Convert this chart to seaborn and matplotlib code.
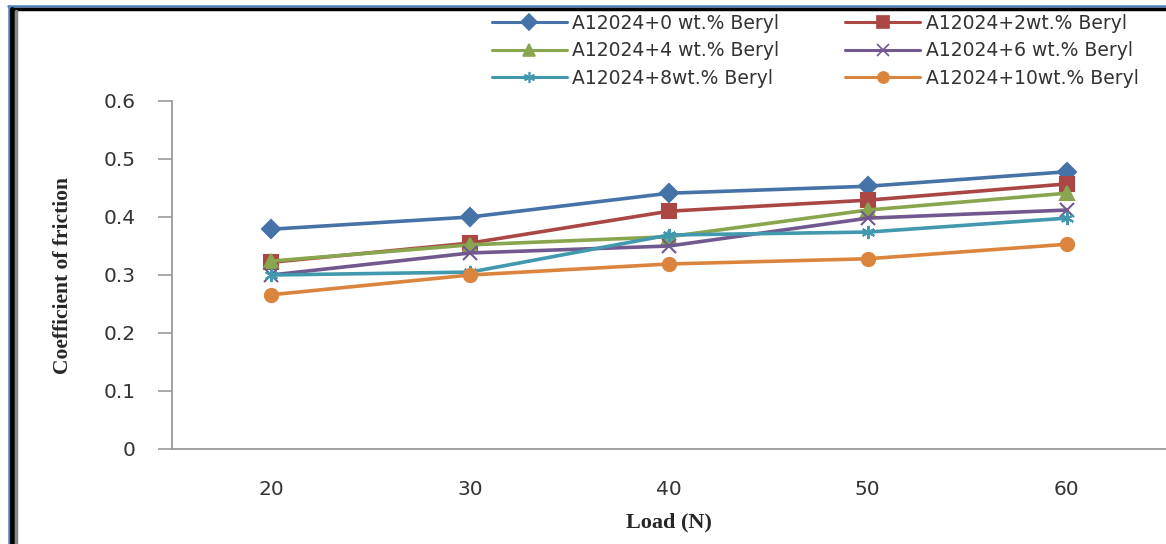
import pandas as pd
import matplotlib.pyplot as plt
import seaborn as sns
from matplotlib.lines import Line2D

load = [20, 30, 40, 50, 60]
beryl_0 = [0.379, 0.400, 0.441, 0.453, 0.478]
beryl_2 = [0.322, 0.355, 0.410, 0.429, 0.457]
beryl_4 = [0.324, 0.352, 0.366, 0.412, 0.441]
beryl_6 = [0.300, 0.338, 0.350, 0.398, 0.412]
beryl_8 = [0.300, 0.305, 0.369, 0.374, 0.398]
beryl_10 = [0.266, 0.300, 0.319, 0.328, 0.353]

labels = [
    'A12024+0 wt.% Beryl',
    'A12024+2wt.% Beryl',
    'A12024+4 wt.% Beryl',
    'A12024+6 wt.% Beryl',
    'A12024+8wt.% Beryl',
    'A12024+10wt.% Beryl',
]
colors = ['#4572A7', '#AA4643', '#89A54E', '#71588F', '#4198AF', '#DB843D']
markers = ['D', 's', '^', 'x', (6, 2, 0), 'o']

rows = []
for lab, vals in zip(labels, [beryl_0, beryl_2, beryl_4, beryl_6, beryl_8, beryl_10]):
    for i, (x, y) in enumerate(zip(load, vals)):
        rows.append({'pos': i, 'load': x, 'cof': y, 'series': lab})
df = pd.DataFrame(rows)

sns.set_style('white')
plt.rcParams['font.family'] = ['DejaVu Sans']

fig = plt.figure(figsize=(11.66, 5.44), dpi=100)
ax = fig.add_axes([172 / 1166, 1 - 449 / 544, 1 - 172 / 1166, (449 - 101) / 544])

# one call per series: filled and line-art markers can't be mixed in one call
for lab, c, m in zip(labels, colors, markers):
    sns.lineplot(
        data=df[df['series'] == lab], x='pos', y='cof',
        color=c, marker=m, linewidth=2.6, markersize=9.5,
        markeredgewidth=1.5, markeredgecolor=c, ax=ax,
    )

ax.set_xlim(-0.5, 4.5)
ax.set_ylim(0, 0.6)
ax.set_xticks(range(len(load)))
ax.set_xticklabels([str(v) for v in load], fontsize=14.5, color='#333333')
ax.set_yticks([0, 0.1, 0.2, 0.3, 0.4, 0.5, 0.6])
ax.set_yticklabels(['0', '0.1', '0.2', '0.3', '0.4', '0.5', '0.6'],
                   fontsize=14.5, color='#333333')
ax.tick_params(axis='y', length=10, width=1.2, color='#999999', direction='out',
               left=True, pad=16)
ax.tick_params(axis='x', length=0, pad=22)
for s in ['top', 'right']:
    ax.spines[s].set_visible(False)
for s in ['left', 'bottom']:
    ax.spines[s].set_color('#999999')
    ax.spines[s].set_linewidth(1.3)

ax.set_xlabel('Load (N)', fontsize=16, fontweight='bold',
              family='Liberation Serif', labelpad=10)
ax.set_ylabel('Coefficient of friction', fontsize=15.5, fontweight='bold',
              family='Liberation Serif', labelpad=22)

handles = [
    Line2D([0], [0], color=c, marker=m, lw=2.2, markersize=8, markeredgewidth=1.2)
    for c, m in zip(colors, markers)
]
# legend reads row by row: reorder for column-wise filling
order = [0, 2, 4, 1, 3, 5]
fig.legend([handles[i] for i in order], [labels[i] for i in order],
           loc='upper left', bbox_to_anchor=(475 / 1166, 1 + 3 / 544),
           ncol=2, frameon=False, fontsize=13.5, handlelength=4.0,
           columnspacing=3.5, labelspacing=0.45, handletextpad=0.3,
           labelcolor='#333333')

# outer frame of the original figure
fig.add_artist(Line2D([8 / 1166, 1], [1 - 6 / 544] * 2, color='#4F81BD', lw=1.8))
fig.add_artist(Line2D([11 / 1166, 1], [1 - 9 / 544] * 2, color='black', lw=2.5))
fig.add_artist(Line2D([9 / 1166] * 2, [0, 1 - 6 / 544], color='#4F81BD', lw=1.8))
fig.add_artist(Line2D([12 / 1166] * 2, [0, 1 - 9 / 544], color='black', lw=3.5))
fig.add_artist(Line2D([16 / 1166] * 2, [0, 1 - 11 / 544], color='#888888', lw=2.5))

fig.savefig('out.png', dpi=100)
